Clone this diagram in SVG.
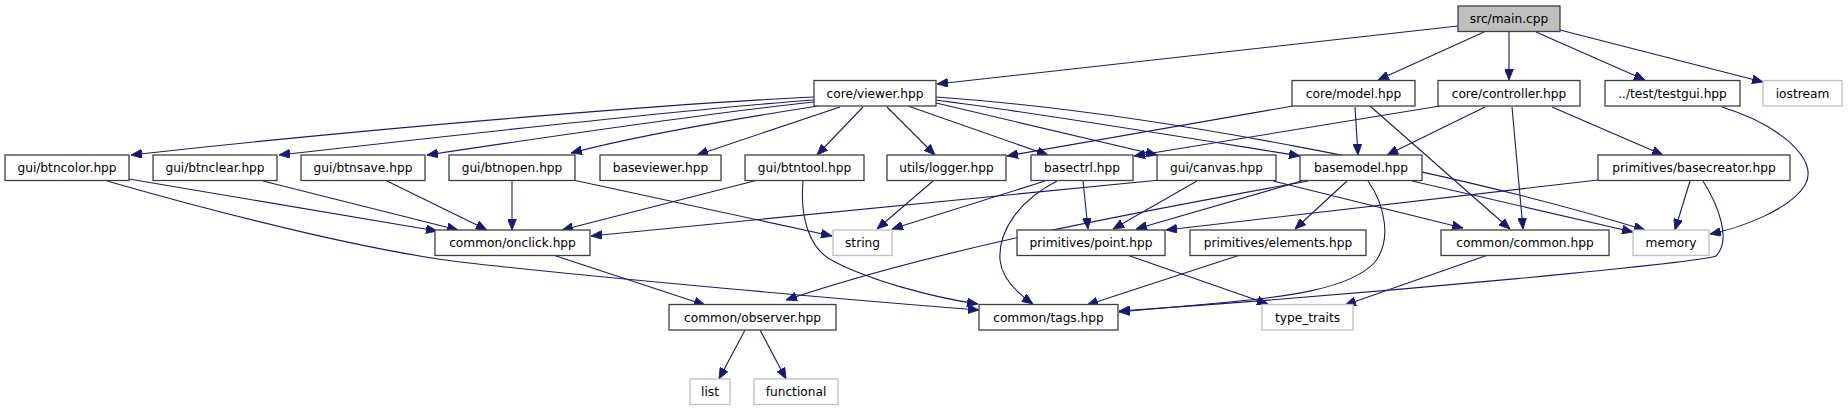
<svg xmlns="http://www.w3.org/2000/svg" width="1848" height="411" viewBox="0 0 1848 411">
<style>
.n rect{fill:#fff;stroke:#404040;stroke-width:1.3}
.s rect{fill:#fff;stroke:#bfbfbf;stroke-width:1.3}
.m rect{fill:#bfbfbf;stroke:#404040;stroke-width:1.3}
text{font-family:"DejaVu Sans","Liberation Sans",sans-serif;font-size:12.2px;fill:#000;text-anchor:middle}
#edges path{fill:none;stroke:#191970;stroke-width:1.1;marker-end:url(#a)}
</style>
<defs>
<marker id="a" markerWidth="11" markerHeight="9" refX="11" refY="4.5" orient="auto" markerUnits="userSpaceOnUse">
<path d="M0,0 L11,4.5 L0,9 z" fill="#191970" stroke="#191970" stroke-width="0.8"/>
</marker>
</defs>
<rect width="1848" height="411" fill="#fff"/>
<g id="edges">
<path d="M1458,26 L937,84"/>
<path d="M1484,32 L1378,80"/>
<path d="M1509,32 L1509,80"/>
<path d="M1536,32 L1645,80"/>
<path d="M1560,30 L1763,82"/>
<path d="M814,97 C700,102 400,125 131,155"/>
<path d="M814,100 C700,108 500,130 279,155"/>
<path d="M814,102 C720,112 580,132 427,155"/>
<path d="M818,106 C760,115 640,135 571,153"/>
<path d="M840,107 L697,155"/>
<path d="M863,107 L817,155"/>
<path d="M887,107 L935,155"/>
<path d="M908,106 L1048,155"/>
<path d="M936,103 L1157,155"/>
<path d="M936,100 C1050,115 1200,140 1300,156"/>
<path d="M936,97 C1150,112 1450,170 1645,230"/>
<path d="M1293,106 L1007,156"/>
<path d="M1355,107 L1358,155"/>
<path d="M1370,106 L1510,229"/>
<path d="M1440,106 L1134,156"/>
<path d="M1485,107 L1387,155"/>
<path d="M1512,107 L1523,229"/>
<path d="M1552,107 L1663,155"/>
<path d="M1722,107 C1780,125 1820,160 1805,185 C1790,210 1740,228 1710,234"/>
<path d="M129,179 L437,231"/>
<path d="M107,181 C250,222 380,252 460,262 C600,278 850,300 979,310"/>
<path d="M263,181 L458,230"/>
<path d="M387,181 L487,230"/>
<path d="M512,181 L512,230"/>
<path d="M573,180 L832,236"/>
<path d="M758,180 L562,230"/>
<path d="M803,181 C800,215 808,250 835,262 C870,280 930,297 978,304"/>
<path d="M933,181 L877,229"/>
<path d="M1045,181 L892,229"/>
<path d="M1083,181 L1088,229"/>
<path d="M1057,181 C1020,200 998,230 1000,260 C1002,280 1020,295 1033,304"/>
<path d="M1160,180 L591,236"/>
<path d="M1197,181 L1113,229"/>
<path d="M1273,181 L1463,228"/>
<path d="M1308,181 C1150,210 950,245 786,300"/>
<path d="M1305,180 L1136,229"/>
<path d="M1347,181 L1295,229"/>
<path d="M1368,181 C1385,205 1392,240 1375,262 C1350,290 1280,297 1230,302 L1119,312"/>
<path d="M1412,181 L1633,232"/>
<path d="M1598,180 L1166,230"/>
<path d="M1690,181 L1675,230"/>
<path d="M1703,181 C1718,205 1732,240 1716,256 C1700,262 1400,292 1119,311"/>
<path d="M553,255 L705,305"/>
<path d="M1127,255 L1268,304"/>
<path d="M1240,255 L1087,305"/>
<path d="M1488,255 L1345,305"/>
<path d="M745,330 L719,379"/>
<path d="M760,330 L786,379"/>
</g>
<g id="main" class="m"><rect x="1458" y="6" width="102" height="25.5"/><text x="1509" y="23">src/main.cpp</text></g>
<g id="viewer" class="n"><rect x="814" y="80.5" width="122" height="25.5"/><text x="875" y="97.5">core/viewer.hpp</text></g>
<g id="model" class="n"><rect x="1292" y="80.5" width="123" height="25.5"/><text x="1353.5" y="97.5">core/model.hpp</text></g>
<g id="controller" class="n"><rect x="1438" y="80.5" width="142" height="25.5"/><text x="1509" y="97.5">core/controller.hpp</text></g>
<g id="testgui" class="n"><rect x="1605" y="80.5" width="135" height="25.5"/><text x="1672.5" y="97.5">../test/testgui.hpp</text></g>
<g id="iostream" class="s"><rect x="1763" y="80.5" width="79" height="25.5"/><text x="1802.5" y="97.5">iostream</text></g>
<g id="btncolor" class="n"><rect x="5" y="155" width="124" height="25.5"/><text x="67" y="172">gui/btncolor.hpp</text></g>
<g id="btnclear" class="n"><rect x="153" y="155" width="124" height="25.5"/><text x="215" y="172">gui/btnclear.hpp</text></g>
<g id="btnsave" class="n"><rect x="301" y="155" width="124" height="25.5"/><text x="363" y="172">gui/btnsave.hpp</text></g>
<g id="btnopen" class="n"><rect x="449" y="155" width="126" height="25.5"/><text x="512" y="172">gui/btnopen.hpp</text></g>
<g id="baseviewer" class="n"><rect x="600" y="155" width="121" height="25.5"/><text x="660.5" y="172">baseviewer.hpp</text></g>
<g id="btntool" class="n"><rect x="745" y="155" width="119" height="25.5"/><text x="804.5" y="172">gui/btntool.hpp</text></g>
<g id="logger" class="n"><rect x="887" y="155" width="119" height="25.5"/><text x="946.5" y="172">utils/logger.hpp</text></g>
<g id="basectrl" class="n"><rect x="1031" y="155" width="102" height="25.5"/><text x="1082" y="172">basectrl.hpp</text></g>
<g id="canvas" class="n"><rect x="1157" y="155" width="119" height="25.5"/><text x="1216.5" y="172">gui/canvas.hpp</text></g>
<g id="basemodel" class="n"><rect x="1300" y="155" width="122" height="25.5"/><text x="1361" y="172">basemodel.hpp</text></g>
<g id="basecreator" class="n"><rect x="1598" y="155" width="192" height="25.5"/><text x="1694" y="172">primitives/basecreator.hpp</text></g>
<g id="onclick" class="n"><rect x="435" y="230" width="155" height="25.5"/><text x="512.5" y="247">common/onclick.hpp</text></g>
<g id="string" class="s"><rect x="833" y="230" width="59" height="25.5"/><text x="862.5" y="247">string</text></g>
<g id="point" class="n"><rect x="1017" y="230" width="148" height="25.5"/><text x="1091" y="247">primitives/point.hpp</text></g>
<g id="elements" class="n"><rect x="1190" y="230" width="176" height="25.5"/><text x="1278" y="247">primitives/elements.hpp</text></g>
<g id="common" class="n"><rect x="1441" y="230" width="168" height="25.5"/><text x="1525" y="247">common/common.hpp</text></g>
<g id="memory" class="s"><rect x="1633" y="230" width="76" height="25.5"/><text x="1671" y="247">memory</text></g>
<g id="observer" class="n"><rect x="669" y="304.5" width="167" height="25.5"/><text x="752.5" y="321.5">common/observer.hpp</text></g>
<g id="tags" class="n"><rect x="979" y="304.5" width="139" height="25.5"/><text x="1048.5" y="321.5">common/tags.hpp</text></g>
<g id="type_traits" class="s"><rect x="1262" y="304.5" width="91" height="25.5"/><text x="1307.5" y="321.5">type_traits</text></g>
<g id="list" class="s"><rect x="690" y="379" width="40" height="25.5"/><text x="710" y="396">list</text></g>
<g id="functional" class="s"><rect x="754" y="379" width="84" height="25.5"/><text x="796" y="396">functional</text></g>
</svg>
